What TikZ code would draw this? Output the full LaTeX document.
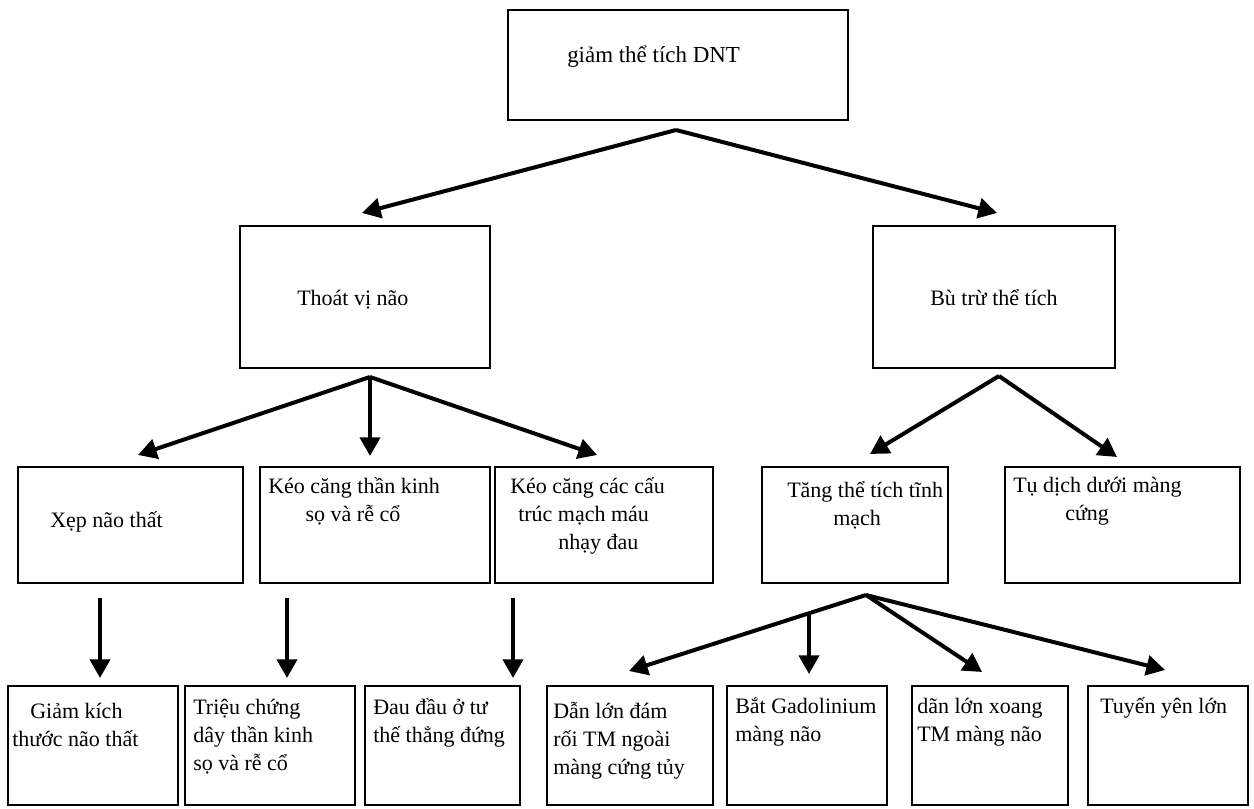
\documentclass[tikz,border=0pt]{standalone}
\usepackage{fontspec}
\setmainfont{Liberation Serif}
\usetikzlibrary{arrows.meta,fit}
\newcommand\myst{\rule{0pt}{18pt}}
\begin{document}
\begin{tikzpicture}[x=0.75pt,y=-0.75pt,
  box/.style={draw, line width=2pt, inner sep=0pt},
  txt/.style={anchor=north west, inner sep=0pt, align=left, font=\fontsize{16.5}{21}\selectfont},
  arr/.style={line width=3pt, -{Triangle[length=14pt,width=15pt]}}]
\useasboundingbox (0,0) rectangle (1254,809);
% boxes
\node[box, fit={(508,10) (848,120)}] (top) {};
\node[box, fit={(240,226) (490,368)}] (thoat) {};
\node[box, fit={(873,226) (1115,368)}] (bu) {};
\node[box, fit={(18,467) (243,583)}] (xep) {};
\node[box, fit={(260,467) (490,583)}] (keoa) {};
\node[box, fit={(495,467) (713,583)}] (keob) {};
\node[box, fit={(762,467) (948,583)}] (tang) {};
\node[box, fit={(1005,467) (1240,583)}] (tu) {};
\node[box, fit={(8,686) (178,805)}] (giam) {};
\node[box, fit={(185,686) (355,805)}] (trieu) {};
\node[box, fit={(365,686) (520,805)}] (dau) {};
\node[box, fit={(547,686) (713,805)}] (dana) {};
\node[box, fit={(727,686) (887,805)}] (bat) {};
\node[box, fit={(912,686) (1068,805)}] (danb) {};
\node[box, fit={(1088,686) (1248,805)}] (tuyen) {};
% texts
\node[txt, font=\fontsize{17.2}{21}\selectfont] (ttop) at (567,38) {\myst giảm thể tích DNT};
\node[txt] (tthoat) at (297,281) {\myst Thoát vị não};
\node[txt] (tbu) at (930,281) {\myst Bù trừ thể tích};
\node[txt] (txep) at (50,503) {\myst Xẹp não thất};
\node[txt] (tkeoa) at (268,469) {\myst Kéo căng thần kinh\\\hspace*{28pt}sọ và rễ cổ};
\node[txt] (tkeob) at (510,469) {\myst Kéo căng các cấu\\\hspace*{6pt}trúc mạch máu\\\hspace*{36pt}nhạy đau};
\node[txt] (ttang) at (787,473) {\myst Tăng thể tích tĩnh\\\hspace*{34.5pt}mạch};
\node[txt] (ttu) at (1013,468) {\myst Tụ dịch dưới màng\\\hspace*{39pt}cứng};
\node[txt] (tgiam) at (12,694) {\myst\hspace*{13.5pt}Giảm kích\\thước não thất};
\node[txt] (ttrieu) at (193,690) {\myst Triệu chứng\\dây thần kinh\\sọ và rễ cổ};
\node[txt] (tdau) at (373,690) {\myst Đau đầu ở tư\\thế thẳng đứng};
\node[txt] (tdana) at (553,694) {\myst Dẫn lớn đám\\rối TM ngoài\\màng cứng tủy};
\node[txt] (tbat) at (735,689) {\myst Bắt Gadolinium\\màng não};
\node[txt] (tdanb) at (917,689) {\myst dãn lớn xoang\\TM màng não};
\node[txt] (ttuyen) at (1100,689) {\myst Tuyến yên lớn};
% connector end points
\coordinate (ptop) at (676,130);
\coordinate (inthoat) at (362,213);
\coordinate (inbu) at (997,213);
\coordinate (pthoat) at (370,377);
\coordinate (inxep) at (138,455);
\coordinate (inkeoa) at (370,456);
\coordinate (inkeob) at (597,455);
\coordinate (pbu) at (999,376);
\coordinate (intang) at (870,454);
\coordinate (intu) at (1117,457);
\coordinate (oxep) at (100,598);
\coordinate (igiam) at (100,678);
\coordinate (okeoa) at (287,598);
\coordinate (itrieu) at (287,678);
\coordinate (okeob) at (513,598);
\coordinate (idau) at (513,678);
\coordinate (ptang) at (866,595);
\coordinate (idana) at (629,671);
\coordinate (obat) at (809,613);
\coordinate (ibat) at (809,674);
\coordinate (idanb) at (982,672);
\coordinate (ituyen) at (1165,670);
% connectors
\draw[arr] (ptop) -- (inthoat);
\draw[arr] (ptop) -- (inbu);
\draw[arr] (pthoat) -- (inxep);
\draw[arr] (pthoat) -- (inkeoa);
\draw[arr] (pthoat) -- (inkeob);
\draw[arr] (pbu) -- (intang);
\draw[arr] (pbu) -- (intu);
\draw[arr] (oxep) -- (igiam);
\draw[arr] (okeoa) -- (itrieu);
\draw[arr] (okeob) -- (idau);
\draw[arr] (ptang) -- (idana);
\draw[arr] (obat) -- (ibat);
\draw[arr] (ptang) -- (idanb);
\draw[arr] (ptang) -- (ituyen);
\end{tikzpicture}
\end{document}
